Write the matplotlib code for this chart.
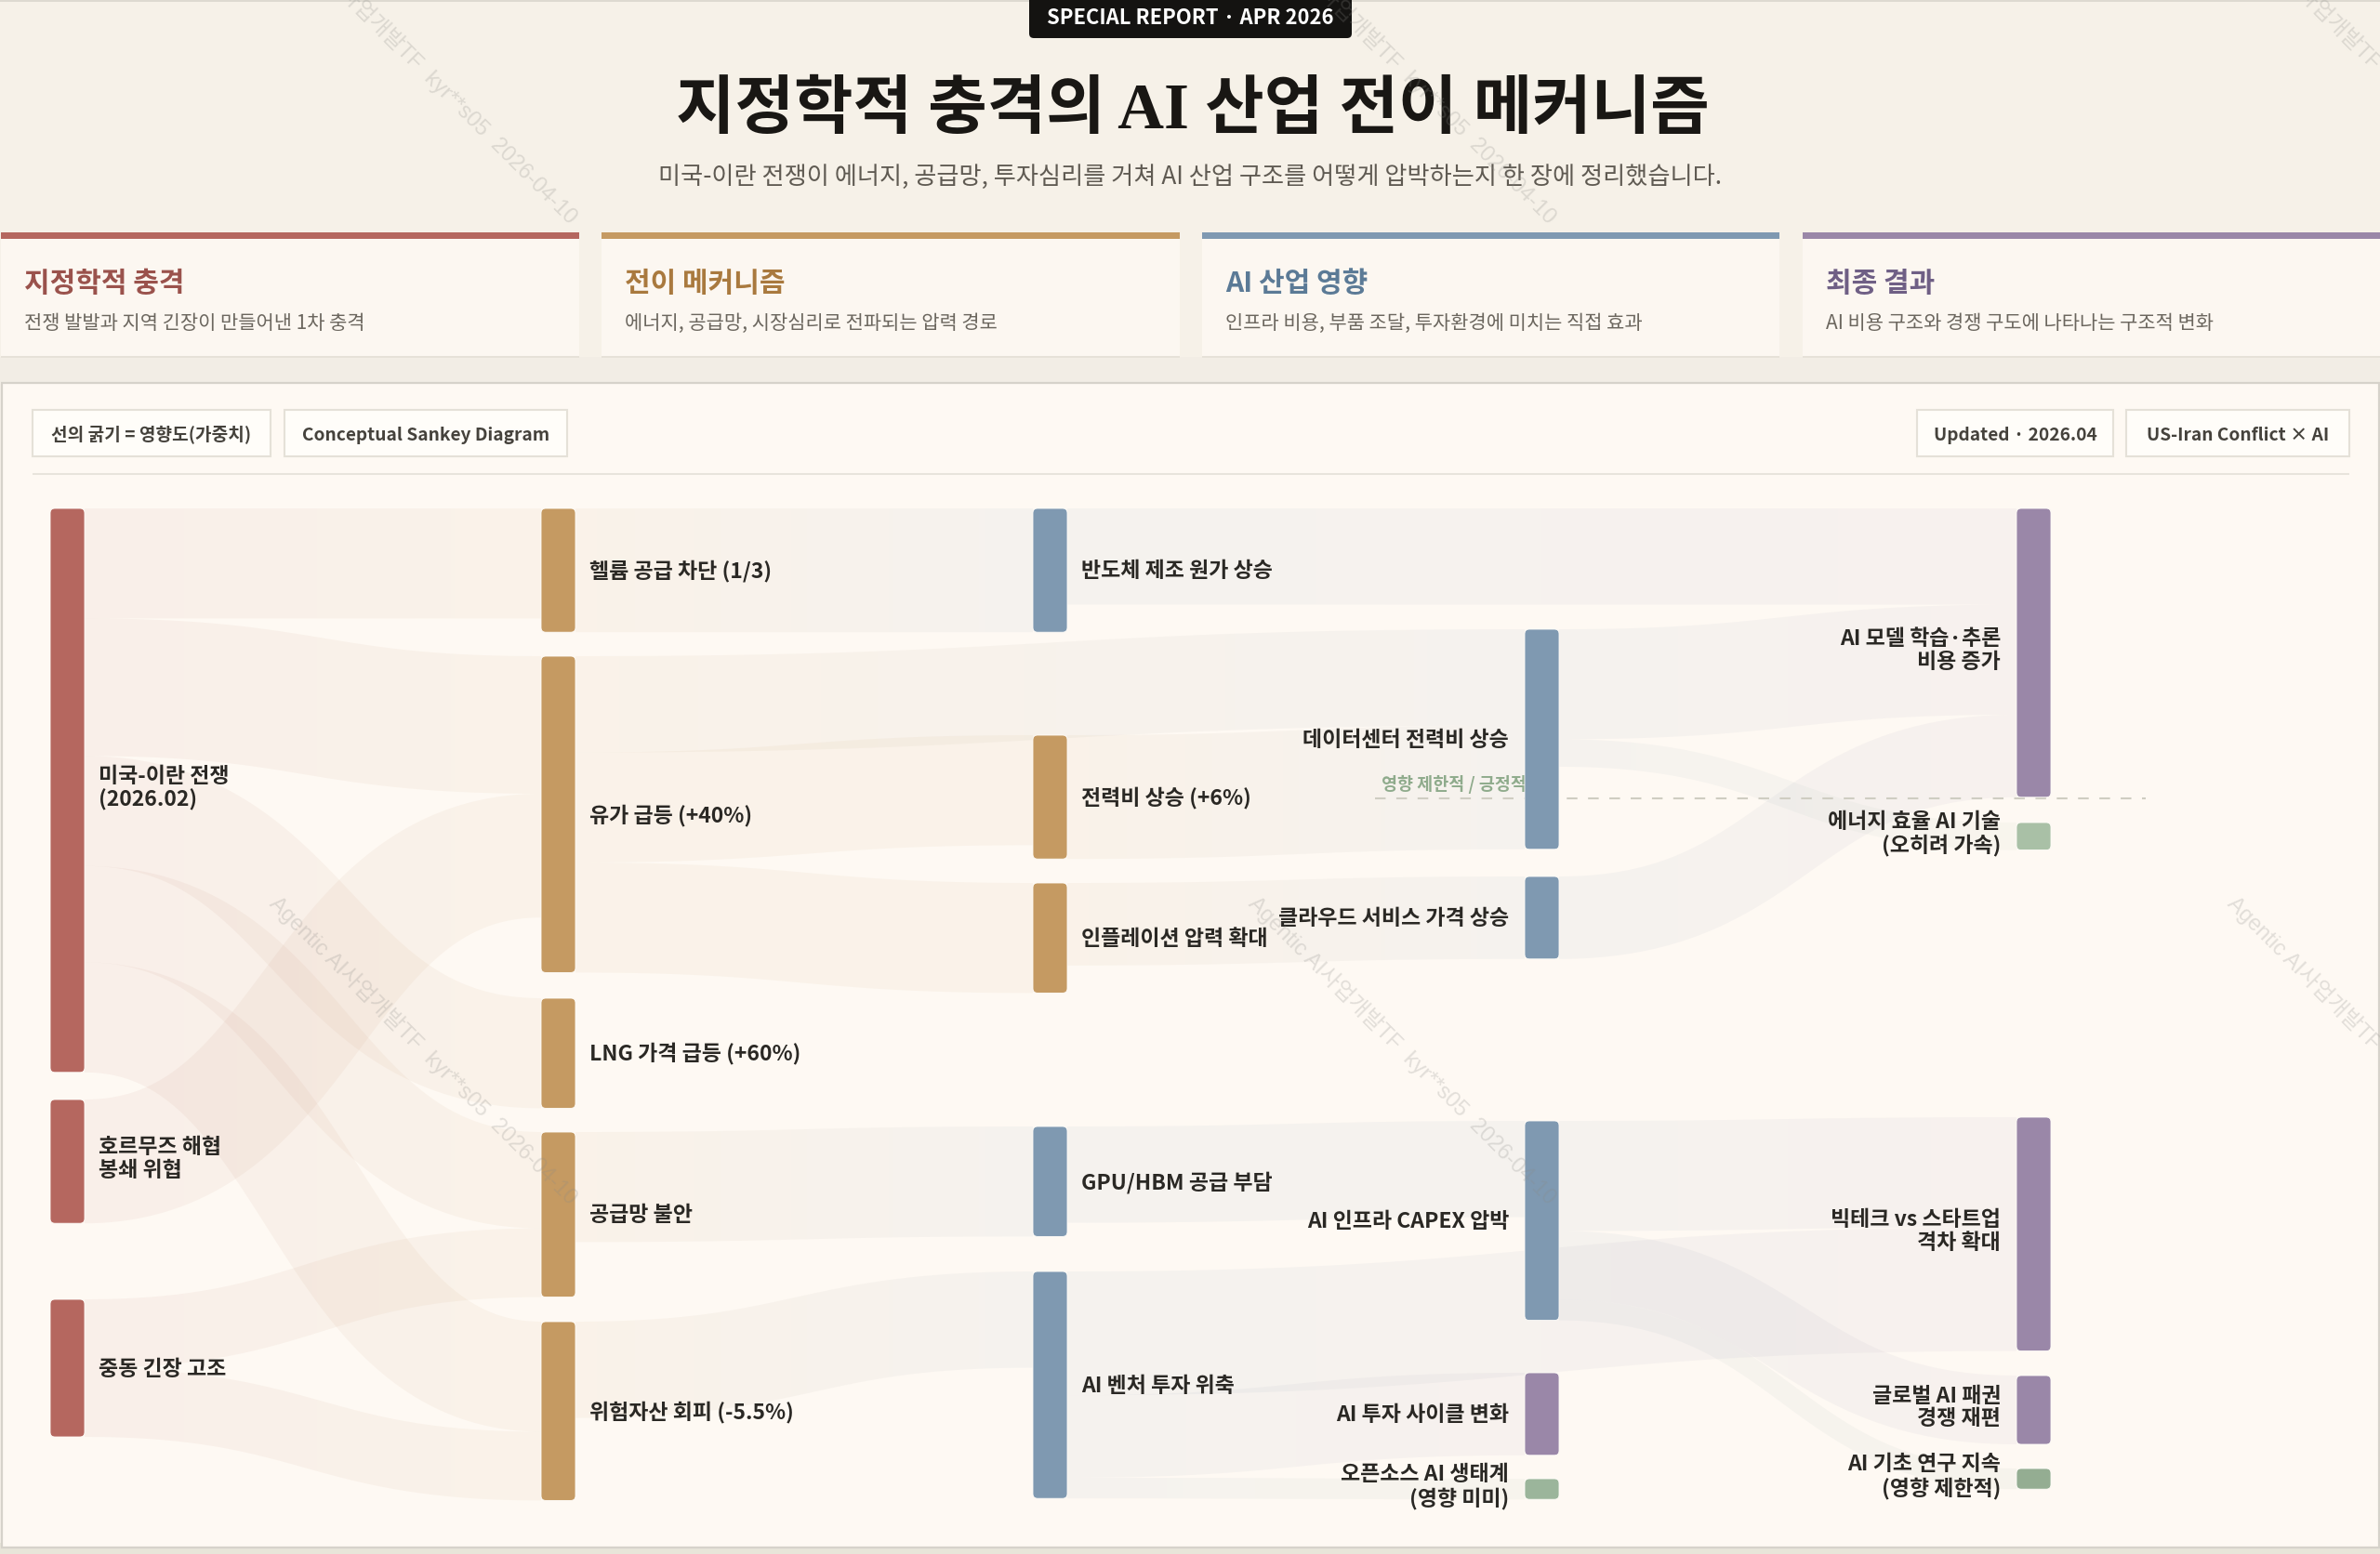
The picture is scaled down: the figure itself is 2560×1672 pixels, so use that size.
import numpy as np
import matplotlib
matplotlib.use("Agg")
import matplotlib.pyplot as plt
from matplotlib.patches import Rectangle, FancyBboxPatch
from matplotlib.path import Path
from matplotlib.colors import to_rgb

KR = ['Noto Sans CJK KR', 'DejaVu Sans']
TITLE_FONT = ['Liberation Serif', 'Noto Sans CJK KR']
plt.rcParams['font.family'] = KR

# ---------- data ----------
node_names = [
    "미국-이란 전쟁\n(2026.02)", "호르무즈 해협\n봉쇄 위협", "중동 긴장 고조",
    "헬륨 공급 차단 (1/3)", "유가 급등 (+40%)", "LNG 가격 급등 (+60%)", "공급망 불안", "위험자산 회피 (-5.5%)",
    "반도체 제조 원가 상승", "전력비 상승 (+6%)", "인플레이션 압력 확대", "GPU/HBM 공급 부담", "AI 벤처 투자 위축",
    "데이터센터 전력비 상승", "클라우드 서비스 가격 상승", "AI 인프라 CAPEX 압박", "AI 투자 사이클 변화", "오픈소스 AI 생태계\n(영향 미미)",
    "AI 모델 학습·추론\n비용 증가", "에너지 효율 AI 기술\n(오히려 가속)", "빅테크 vs 스타트업\n격차 확대", "글로벌 AI 패권\n경쟁 재편", "AI 기초 연구 지속\n(영향 제한적)",
]
node_column = [0, 0, 0, 1, 1, 1, 1, 1, 2, 2, 2, 2, 2, 3, 3, 3, 3, 3, 4, 4, 4, 4, 4]
node_group = ["geo", "geo", "geo", "mech", "mech", "mech", "mech", "mech",
              "ai", "mech", "mech", "ai", "ai", "ai", "ai", "ai", "out", "pos2", "out", "pos1", "out", "out", "pos3"]

link_source = [0, 0, 0, 0, 0, 1, 2, 2, 3, 4, 4, 4, 6, 7, 8, 9, 10, 11, 12, 12, 12, 13, 13, 14, 15, 15, 15]
link_target = [3, 4, 5, 6, 7, 4, 6, 7, 8, 13, 9, 10, 11, 12, 18, 13, 14, 15, 20, 16, 17, 18, 19, 18, 20, 21, 22]
link_value = [8, 10, 8, 7, 8, 9, 5, 5, 9, 7, 8, 8, 8, 7, 7, 9, 6, 7, 9, 6, 1.5, 8, 2, 6, 8, 5, 1.5]

card_titles = ["지정학적 충격", "전이 메커니즘", "AI 산업 영향", "최종 결과"]
card_texts = ["전쟁 발발과 지역 긴장이 만들어낸 1차 충격",
              "에너지, 공급망, 시장심리로 전파되는 압력 경로",
              "인프라 비용, 부품 조달, 투자환경에 미치는 직접 효과",
              "AI 비용 구조와 경쟁 구도에 나타나는 구조적 변화"]
pill_texts = ["선의 굵기 = 영향도(가중치)", "Conceptual Sankey Diagram", "Updated · 2026.04", "US-Iran Conflict × AI"]

# ---------- layout and style ----------
W, H = 2560, 1672
UNIT = 14.8
col_x = [54, 582, 1111, 1640, 2169]
NODE_W = 37
node_top = [547, 1183, 1398, 547, 706, 1074, 1218, 1422, 547, 791, 950, 1212, 1368,
            677, 943, 1206, 1477, 1591, 547, 885, 1202, 1480, 1580]
palette = dict(geo="#B5675F", mech="#C59A62", ai="#7F99B1", out="#9A87A8",
               pos1="#A9C0A6", pos2="#9BB59B", pos3="#94AD92")
BG, PANEL, INK = "#F6F1E8", "#FEF9F3", "#2A2824"
LINK_ALPHA = 0.07


def px(v):
    return v * 0.72


fig = plt.figure(figsize=(W / 100, H / 100), dpi=100, facecolor=BG)
ax = fig.add_axes([0, 0, 1, 1])
ax.set_axis_off()

# ---------- page ----------
ax.add_patch(Rectangle((0, 384), W, 27, fc="#F2EDE5", ec="none", zorder=0))
ax.add_patch(Rectangle((0, 0), W, 2, fc="#DDD9D0", ec="none", zorder=0))
ax.add_patch(Rectangle((0, 1660), W, 12, fc="#E8E5D9", ec="none", zorder=0))
ax.add_patch(Rectangle((1.5, 412), W - 3, 1253, fc=PANEL, ec="#D6D2CA", lw=1.6, zorder=0.5))

ax.add_patch(FancyBboxPatch((1107, -20), 347, 61, boxstyle="round,pad=0,rounding_size=5",
                            fc="#141311", ec="none", zorder=2))
ax.text(1280.5, 19, "SPECIAL REPORT · APR 2026", color="#FFFFFF", fontsize=px(22), fontweight="bold",
        ha="center", va="center", zorder=3)
ax.text(1283, 121, "지정학적 충격의 AI 산업 전이 메커니즘", color="#191714", fontsize=px(69), fontweight="bold",
        family=TITLE_FONT, ha="center", va="center", zorder=3)
ax.text(1280, 190, "미국-이란 전쟁이 에너지, 공급망, 투자심리를 거쳐 AI 산업 구조를 어떻게 압박하는지 한 장에 정리했습니다.",
        color="#5F5A52", fontsize=px(26.2), fontweight=500, ha="center", va="center", zorder=3)

card_x = [(1, 623), (647, 1269), (1293, 1914), (1939, 2560)]
card_stripe = ["#B5675F", "#C59A62", "#7F99B1", "#9A87A8"]
card_ink = ["#9A524C", "#A9793E", "#5B7A96", "#6F5F85"]
for (x0, x1), stripe, ink, title, text in zip(card_x, card_stripe, card_ink, card_titles, card_texts):
    ax.add_patch(Rectangle((x0, 250), x1 - x0, 135, fc="#E6E1D8", ec="none", zorder=1))
    ax.add_patch(Rectangle((x0, 250), x1 - x0, 133, fc="#FCF7F1", ec="none", zorder=1.1))
    ax.add_patch(Rectangle((x0, 250), x1 - x0, 7, fc=stripe, ec="none", zorder=1.2))
    ax.text(x0 + 25, 305, title, color=ink, fontsize=px(30), fontweight="bold", ha="left", va="center", zorder=3)
    ax.text(x0 + 25, 348, text, color="#6B665E", fontsize=px(20.9), fontweight=500, ha="left", va="center", zorder=3)

pill_x = [(35, 291), (306, 610), (2062, 2273), (2287, 2527)]
for (x0, x1), text in zip(pill_x, pill_texts):
    ax.add_patch(Rectangle((x0, 441), x1 - x0, 50, fc="#FFFDF9", ec="#E5E1D8", lw=1.5, zorder=2))
    ax.text((x0 + x1) / 2, 468.5, text, color="#45423C", fontsize=px(19.1), fontweight="bold",
            ha="center", va="center", zorder=3)
ax.add_patch(Rectangle((35, 509), 2492, 2, fc="#E8E4DC", ec="none", zorder=1))

# ---------- sankey layout ----------
n_nodes = len(node_names)
vals_in = np.zeros(n_nodes)
vals_out = np.zeros(n_nodes)
for s, t, v in zip(link_source, link_target, link_value):
    vals_out[s] += v
    vals_in[t] += v
node_h = np.maximum(vals_in, vals_out) * UNIT
top = np.array(node_top, dtype=float)
left = np.array([col_x[c] for c in node_column], dtype=float)

order = np.arange(len(link_value))
s_off = top.copy()
t_off = top.copy()
src_y = {}
tgt_y = {}
for i in sorted(order, key=lambda k: top[link_target[k]]):
    w = link_value[i] * UNIT
    src_y[i] = s_off[link_source[i]] + w / 2
    s_off[link_source[i]] += w
for i in sorted(order, key=lambda k: top[link_source[k]]):
    w = link_value[i] * UNIT
    tgt_y[i] = t_off[link_target[i]] + w / 2
    t_off[link_target[i]] += w


def band_path(x0, y0, x1, y1, w):
    t = np.linspace(0, 1, 240)[:, None]
    xm = (x0 + x1) / 2
    p0, p1, p2, p3 = [np.array(q, float) for q in ((x0, y0), (xm, y0), (xm, y1), (x1, y1))]
    pts = (1 - t) ** 3 * p0 + 3 * (1 - t) ** 2 * t * p1 + 3 * (1 - t) * t ** 2 * p2 + t ** 3 * p3
    d = 3 * (1 - t) ** 2 * (p1 - p0) + 6 * (1 - t) * t * (p2 - p1) + 3 * t ** 2 * (p3 - p2)
    n = np.column_stack([-d[:, 1], d[:, 0]]) / np.hypot(d[:, 0], d[:, 1])[:, None]
    a, b = pts + n * w / 2, pts - n * w / 2
    verts, codes = [], []
    for k in range(len(pts) - 1):
        q = np.array([a[k], a[k + 1], b[k + 1], b[k]])
        area = np.sum(q[:, 0] * np.roll(q[:, 1], -1) - np.roll(q[:, 0], -1) * q[:, 1])
        if area < 0:
            q = q[::-1]
        verts.extend(list(q) + [q[0]])
        codes.extend([Path.MOVETO, Path.LINETO, Path.LINETO, Path.LINETO, Path.CLOSEPOLY])
    return Path(np.array(verts), codes)


for i in order:
    s, t = link_source[i], link_target[i]
    x0, x1 = left[s] + NODE_W, left[t]
    path = band_path(x0, src_y[i], x1, tgt_y[i], link_value[i] * UNIT)
    c0, c1 = np.array(to_rgb(palette[node_group[s]])), np.array(to_rgb(palette[node_group[t]]))
    f = np.linspace(0, 1, 128)[:, None]
    rgba = np.dstack([(c0 * (1 - f) + c1 * f)[None, :, :], np.full((1, 128, 1), LINK_ALPHA)])
    ext = path.get_extents()
    im = ax.imshow(rgba, extent=(x0, x1, ext.y1 + 2, ext.y0 - 2), aspect="auto",
                   interpolation="bilinear", zorder=3)
    im.set_clip_path(path, transform=ax.transData)

# ---------- marks above the links ----------
ax.text(1486, 844, "영향 제한적 / 긍정적", color="#8FAB8C", fontsize=px(18.5), fontweight="bold",
        ha="left", va="center", zorder=3.5)
ax.plot([1479, 2308], [859, 859], color="#CFCDC2", lw=1.5, dashes=(5.5, 5.5), zorder=3.6)

for j in range(n_nodes):
    ax.add_patch(FancyBboxPatch((left[j], top[j]), NODE_W, node_h[j],
                                boxstyle="round,pad=0,rounding_size=5",
                                fc=palette[node_group[j]], ec="#FFFDF9", lw=0.6, zorder=4))
    cy = top[j] + node_h[j] / 2 + (-2.5 if "\n" in node_names[j] else 1)
    if node_column[j] < 3:
        ax.text(left[j] + NODE_W + 15, cy, node_names[j], color=INK, fontsize=px(23), fontweight="bold",
                ha="left", va="center", linespacing=1.1, zorder=5)
    else:
        ax.text(left[j] - 17, cy, node_names[j], color=INK, fontsize=px(23), fontweight="bold",
                ha="right", va="center", multialignment="right", linespacing=1.1, zorder=5)

# ---------- watermarks ----------
for cy in (75, 1130):
    for cx in (455, 1508, 2561):
        ax.text(cx, cy, "Agentic AI사업개발TF  kyr**s05  2026-04-10", color="#8A8A86", alpha=0.24,
                fontsize=px(23.6), rotation=-45, rotation_mode="anchor", ha="center", va="center",
                family=['Liberation Sans', 'Noto Sans CJK KR'], zorder=6, clip_on=True)

ax.set_xlim(0, W)
ax.set_ylim(H, 0)
fig.savefig("out.png", dpi=100, facecolor=BG)
